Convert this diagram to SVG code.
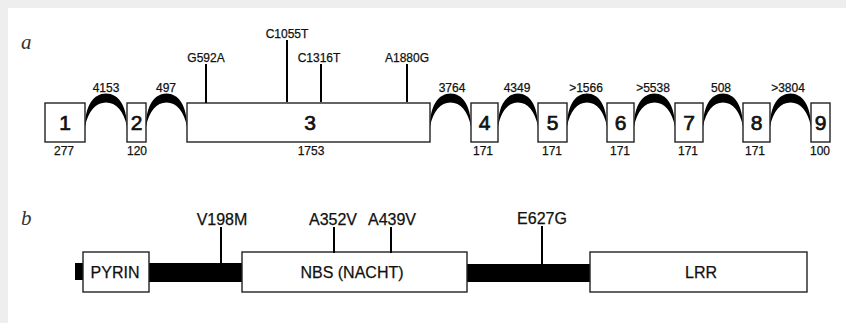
<svg xmlns="http://www.w3.org/2000/svg" width="846" height="323" viewBox="0 0 846 323">
<style>
text{font-family:"Liberation Sans",Arial,sans-serif;fill:#111;text-anchor:middle;stroke:#111;stroke-width:0.25}
.ex{fill:#fff;stroke:#222;stroke-width:1.4}
.num{font-size:21px;stroke-width:0.7}
.sm{font-size:12px}
.mut{stroke:#000;stroke-width:2}
.arc{fill:#000}
.bar{fill:#000}
.dom{font-size:16px}
.lab{font-family:"Liberation Serif","Times New Roman",serif;font-style:italic;font-size:21px;text-anchor:start;stroke:none;fill:#333}
</style>
<defs>
<path id="arc" d="M0,127 C0,105 9,93.5 21,93.5 C33,93.5 42,105 42,127 C39,111 31,102.5 21,102.5 C11,102.5 3,111 0,127 Z"/>
</defs>
<rect x="0" y="0" width="846" height="323" fill="#eeeeee"/>
<rect x="8" y="8" width="838" height="315" fill="#ffffff"/>
<text class="lab" x="21" y="49">a</text>
<text class="lab" x="21" y="225">b</text>

<g id="connectors">
<use href="#arc" class="arc" transform="translate(85,0)"/>
<use href="#arc" class="arc" transform="translate(146,0) scale(0.976,1)"/>
<use href="#arc" class="arc" transform="translate(430,0) scale(0.976,1)"/>
<use href="#arc" class="arc" transform="translate(498,0) scale(0.952,1)"/>
<use href="#arc" class="arc" transform="translate(567,0) scale(0.952,1)"/>
<use href="#arc" class="arc" transform="translate(634,0) scale(0.976,1)"/>
<use href="#arc" class="arc" transform="translate(703,0) scale(0.952,1)"/>
<use href="#arc" class="arc" transform="translate(770,0) scale(0.976,1)"/>
<text class="sm" x="106" y="92">4153</text>
<text class="sm" x="166" y="92">497</text>
<text class="sm" x="452" y="92">3764</text>
<text class="sm" x="517" y="92">4349</text>
<text class="sm" x="586" y="92">&gt;1566</text>
<text class="sm" x="653" y="92">&gt;5538</text>
<text class="sm" x="721" y="92">508</text>
<text class="sm" x="788" y="92">&gt;3804</text>
</g>

<g id="exon1"><rect class="ex" x="45" y="103" width="40" height="39"/><text class="num" x="65" y="130">1</text><text class="sm" x="64" y="155">277</text></g>
<g id="exon2"><rect class="ex" x="127" y="103" width="19" height="39"/><text class="num" x="136.5" y="130">2</text><text class="sm" x="137" y="155">120</text></g>
<g id="exon3"><rect class="ex" x="187" y="103" width="243" height="39"/><text class="num" x="310" y="130">3</text><text class="sm" x="311" y="155">1753</text></g>
<g id="exon4"><rect class="ex" x="471" y="103" width="27" height="39"/><text class="num" x="484.5" y="130">4</text><text class="sm" x="483" y="155">171</text></g>
<g id="exon5"><rect class="ex" x="538" y="103" width="29" height="39"/><text class="num" x="552.5" y="130">5</text><text class="sm" x="552" y="155">171</text></g>
<g id="exon6"><rect class="ex" x="607" y="103" width="27" height="39"/><text class="num" x="620.5" y="130">6</text><text class="sm" x="620" y="155">171</text></g>
<g id="exon7"><rect class="ex" x="675" y="103" width="28" height="39"/><text class="num" x="689" y="130">7</text><text class="sm" x="688" y="155">171</text></g>
<g id="exon8"><rect class="ex" x="743" y="103" width="27" height="39"/><text class="num" x="756.5" y="130">8</text><text class="sm" x="755" y="155">171</text></g>
<g id="exon9"><rect class="ex" x="811" y="103" width="19" height="39"/><text class="num" x="820.5" y="130">9</text><text class="sm" x="820" y="155">100</text></g>

<g id="mutations-a">
<line class="mut" x1="206" y1="64" x2="206" y2="103"/><text class="sm" x="206" y="62">G592A</text>
<line class="mut" x1="287" y1="40" x2="287" y2="102"/><text class="sm" x="287" y="38">C1055T</text>
<line class="mut" x1="321" y1="64" x2="321" y2="102"/><text class="sm" x="319" y="62">C1316T</text>
<line class="mut" x1="407" y1="64" x2="407" y2="102"/><text class="sm" x="407" y="62">A1880G</text>
</g>

<g id="protein-backbone">
<rect class="bar" x="75" y="263" width="9" height="17"/>
<rect class="bar" x="148" y="263" width="95" height="19"/>
<rect class="bar" x="466" y="264" width="125" height="18"/>
</g>
<g id="pyrin"><rect class="ex" x="83" y="252" width="66" height="40"/><text class="dom" x="115" y="278">PYRIN</text></g>
<g id="nbs"><rect class="ex" x="242" y="252" width="225" height="40"/><text class="dom" x="352" y="278">NBS (NACHT)</text></g>
<g id="lrr"><rect class="ex" x="590" y="252" width="217" height="40"/><text class="dom" x="701" y="278">LRR</text></g>

<g id="mutations-b">
<line class="mut" x1="221" y1="227" x2="221" y2="264"/><text class="dom" x="222" y="225" font-size="15">V198M</text>
<line class="mut" x1="334" y1="227" x2="334" y2="253"/><text class="dom" x="333" y="225" font-size="15">A352V</text>
<line class="mut" x1="391" y1="227" x2="391" y2="253"/><text class="dom" x="392" y="225" font-size="15">A439V</text>
<line class="mut" x1="542" y1="226" x2="542" y2="264"/><text class="dom" x="542" y="224" font-size="15">E627G</text>
</g>
</svg>
